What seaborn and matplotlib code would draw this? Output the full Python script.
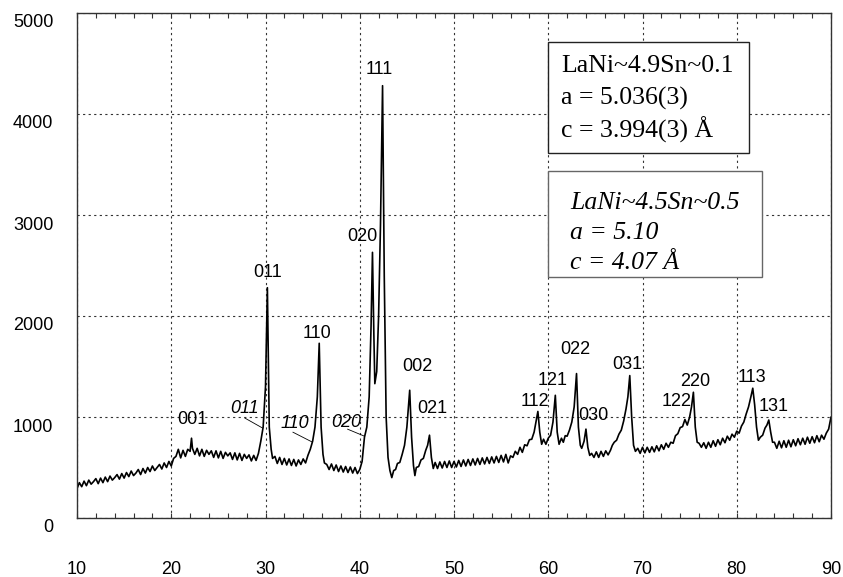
import numpy as np
import matplotlib
matplotlib.use("Agg")
import matplotlib.pyplot as plt
import matplotlib.transforms as mtransforms
from matplotlib.patches import Rectangle
import seaborn as sns
import pandas as pd

# XRD trace (2theta in degrees, counts)
two_theta = [
    10.00, 10.25, 10.50, 10.75, 11.00, 11.25, 11.50, 11.75, 12.00, 12.25,
    12.50, 12.75, 13.00, 13.25, 13.50, 13.75, 14.00, 14.25, 14.50, 14.75,
    15.00, 15.25, 15.50, 15.75, 16.00, 16.25, 16.50, 16.75, 17.00, 17.25,
    17.50, 17.75, 18.00, 18.25, 18.50, 18.75, 19.00, 19.25, 19.50, 19.75,
    20.00, 20.25, 20.50, 20.75, 21.00, 21.25, 21.50, 21.75, 22.00, 22.15,
    22.25, 22.50, 22.75, 23.00, 23.25, 23.50, 23.75, 24.00, 24.25, 24.50,
    24.75, 25.00, 25.25, 25.50, 25.75, 26.00, 26.25, 26.50, 26.75, 27.00,
    27.25, 27.50, 27.75, 28.00, 28.25, 28.50, 28.75, 29.00, 29.25, 29.50,
    29.75, 30.00, 30.20, 30.40, 30.60, 30.75, 31.00, 31.25, 31.50, 31.75,
    32.00, 32.25, 32.50, 32.75, 33.00, 33.25, 33.50, 33.75, 34.00, 34.25,
    34.50, 34.75, 35.00, 35.25, 35.50, 35.70, 35.90, 36.10, 36.25, 36.50,
    36.75, 37.00, 37.25, 37.50, 37.75, 38.00, 38.25, 38.50, 38.75, 39.00,
    39.25, 39.50, 39.75, 40.00, 40.25, 40.50, 40.75, 41.00, 41.20, 41.35,
    41.50, 41.60, 41.80, 42.00, 42.20, 42.42, 42.60, 42.80, 43.00, 43.20,
    43.40, 43.60, 43.80, 44.00, 44.25, 44.50, 44.75, 45.00, 45.30, 45.50,
    45.70, 45.85, 46.00, 46.25, 46.50, 46.75, 47.00, 47.20, 47.40, 47.60,
    47.80, 48.00, 48.25, 48.50, 48.75, 49.00, 49.25, 49.50, 49.75, 50.00,
    50.25, 50.50, 50.75, 51.00, 51.25, 51.50, 51.75, 52.00, 52.25, 52.50,
    52.75, 53.00, 53.25, 53.50, 53.75, 54.00, 54.25, 54.50, 54.75, 55.00,
    55.25, 55.50, 55.75, 56.00, 56.25, 56.50, 56.75, 57.00, 57.25, 57.50,
    57.75, 58.00, 58.25, 58.50, 58.70, 58.90, 59.10, 59.30, 59.50, 59.75,
    60.00, 60.25, 60.50, 60.75, 60.95, 61.15, 61.40, 61.60, 61.80, 62.00,
    62.25, 62.50, 62.75, 63.00, 63.20, 63.40, 63.55, 63.80, 64.00, 64.20,
    64.40, 64.60, 64.85, 65.10, 65.35, 65.60, 65.85, 66.10, 66.35, 66.60,
    66.80, 67.00, 67.25, 67.50, 67.75, 68.00, 68.25, 68.45, 68.65, 68.85,
    69.05, 69.25, 69.50, 69.75, 70.00, 70.25, 70.50, 70.75, 71.00, 71.25,
    71.50, 71.75, 72.00, 72.25, 72.50, 72.75, 73.00, 73.25, 73.50, 73.75,
    74.00, 74.25, 74.50, 74.75, 75.00, 75.20, 75.40, 75.60, 75.80, 76.00,
    76.25, 76.50, 76.75, 77.00, 77.25, 77.50, 77.75, 78.00, 78.25, 78.50,
    78.75, 79.00, 79.25, 79.50, 79.75, 80.00, 80.25, 80.50, 80.75, 81.00,
    81.25, 81.50, 81.70, 81.90, 82.10, 82.30, 82.50, 82.75, 83.00, 83.20,
    83.40, 83.60, 83.80, 84.00, 84.25, 84.50, 84.75, 85.00, 85.25, 85.50,
    85.75, 86.00, 86.25, 86.50, 86.75, 87.00, 87.25, 87.50, 87.75, 88.00,
    88.25, 88.50, 88.75, 89.00, 89.25, 89.50, 89.75, 90.00,
]
counts = [
    290, 350, 310, 365, 320, 375, 335, 360, 390, 340,
    395, 350, 405, 360, 415, 375, 400, 430, 385, 440,
    395, 450, 410, 465, 420, 445, 480, 430, 490, 445,
    500, 460, 515, 470, 500, 530, 485, 545, 500, 560,
    515, 590, 610, 680, 595, 670, 610, 680, 660, 790,
    690, 630, 690, 615, 680, 610, 670, 630, 665, 600,
    665, 595, 660, 590, 650, 615, 645, 580, 645, 575,
    640, 570, 630, 590, 625, 565, 620, 570, 640, 760,
    900, 1300, 2280, 900, 680, 590, 610, 540, 600, 530,
    590, 525, 585, 520, 580, 515, 575, 530, 585, 545,
    620, 680, 760, 900, 1200, 1730, 900, 630, 545, 530,
    480, 535, 470, 525, 460, 515, 455, 510, 450, 505,
    445, 500, 440, 480, 560, 800, 900, 1200, 1900, 2630,
    1800, 1330, 1450, 2000, 2900, 4280, 2400, 1000, 600, 470,
    400, 470, 480, 540, 550, 630, 720, 900, 1265, 800,
    520, 420, 500, 510, 575, 590, 670, 720, 820, 600,
    490, 550, 490, 555, 495, 560, 500, 565, 500, 560,
    505, 570, 510, 575, 515, 580, 520, 585, 525, 590,
    530, 595, 535, 600, 540, 605, 545, 610, 550, 620,
    555, 630, 545, 615, 600, 660, 630, 700, 650, 725,
    715, 775, 780, 850, 950, 1055, 850, 730, 780, 730,
    790, 820, 950, 1215, 850, 730, 790, 750, 815, 810,
    870, 950, 1100, 1430, 900, 720, 690, 760, 880, 700,
    620, 640, 600, 655, 600, 660, 610, 665, 625, 670,
    720, 750, 770, 830, 870, 960, 1080, 1200, 1410, 1000,
    720, 660, 690, 640, 700, 645, 700, 650, 705, 655,
    715, 665, 725, 680, 740, 700, 750, 740, 815, 835,
    895, 905, 975, 920, 1000, 1100, 1245, 900, 750, 740,
    700, 745, 690, 750, 700, 765, 710, 775, 725, 790,
    745, 810, 770, 830, 800, 860, 840, 910, 950, 1030,
    1100, 1200, 1285, 1120, 900, 770, 800, 820, 890, 920,
    970, 850, 750, 750, 690, 760, 695, 765, 700, 770,
    705, 775, 715, 785, 725, 790, 730, 800, 740, 805,
    745, 815, 755, 820, 780, 840, 880, 1000,
]

# reflection labels: text, x, y
peak_names = ["001", "011", "110", "020", "111", "002", "021", "112", "121",
              "022", "030", "031", "122", "220", "113", "131"]
peak_label_x = [22.2, 30.25, 35.45, 40.3, 42.1, 46.15, 47.65, 58.6, 60.5,
                62.9, 64.8, 68.4, 73.6, 75.6, 81.6, 83.9]
peak_label_y = [980, 2430, 1830, 2790, 4440, 1500, 1080, 1150, 1360,
                1670, 1010, 1520, 1150, 1350, 1390, 1100]

# italic shoulder labels with leader lines
shoulder_names = ["011", "110", "020"]
shoulder_label_x = [27.8, 33.1, 38.6]
shoulder_label_y = [1087, 940, 950]
shoulder_from = [(27.8, 990), (32.9, 850), (38.7, 880)]
shoulder_to = [(29.7, 890), (35.0, 750), (40.5, 810)]

box1_lines = ["LaNi~4.9Sn~0.1", "a = 5.036(3)", "c = 3.994(3) Å"]
box2_lines = ["LaNi~4.5Sn~0.5", "a = 5.10", "c = 4.07 Å"]

df = pd.DataFrame({"two_theta": two_theta, "counts": counts})

sns.set_theme(style="white")
plt.rcParams["font.family"] = ["Liberation Sans", "DejaVu Sans"]
plt.rcParams["text.color"] = "black"

W, H = 843, 577
fig = plt.figure(figsize=(W / 100, H / 100), dpi=100)
ax = fig.add_axes([77 / W, 1 - 518 / H, (831 - 77) / W, (518 - 13) / H])

sns.lineplot(data=df, x="two_theta", y="counts", estimator=None, sort=False,
             color="black", linewidth=1.2, ax=ax)

ax.set_xlim(10, 90)
ax.set_ylim(0, 5000)
ax.set_xticks(range(10, 91, 10))
ax.set_xticks(range(10, 91, 2), minor=True)
ax.set_yticks(range(0, 5001, 1000))
ax.set_xlabel("")
ax.set_ylabel("")

ax.grid(True, which="major", color="#333333", linestyle=(0, (2, 3)), linewidth=0.8)
ax.tick_params(axis="x", which="both", direction="in", top=True, bottom=True,
               length=3.5, width=0.8, color="#333333", pad=31, labelsize=13,
               labelcolor="black")
ax.tick_params(axis="y", which="both", length=0, pad=17, labelsize=13,
               labelcolor="black")
for sp in ax.spines.values():
    sp.set_color("#333333")
    sp.set_linewidth(1.0)

offset = mtransforms.ScaledTranslation(0, -0.08, fig.dpi_scale_trans)
for lab in ax.get_yticklabels():
    lab.set_transform(lab.get_transform() + offset)

for name, lx, ly in zip(peak_names, peak_label_x, peak_label_y):
    ax.text(lx, ly, name, fontsize=13, ha="center", va="center", color="black")

for name, lx, ly, p0, p1 in zip(shoulder_names, shoulder_label_x, shoulder_label_y,
                                 shoulder_from, shoulder_to):
    ax.text(lx, ly, name, fontsize=13, style="italic", ha="center", va="center",
            color="black")
    ax.plot([p0[0], p1[0]], [p0[1], p1[1]], color="black", linewidth=0.6)

# composition boxes
fig.patches.append(Rectangle((548 / W, 1 - 153 / H), (749 - 548) / W, (153 - 42) / H,
                             transform=fig.transFigure, facecolor="white",
                             edgecolor="#222222", linewidth=1.0, zorder=5))
fig.patches.append(Rectangle((548 / W, 1 - 277 / H), (762 - 548) / W, (277 - 171) / H,
                             transform=fig.transFigure, facecolor="white",
                             edgecolor="#666666", linewidth=1.0, zorder=5))
for i, line in enumerate(box1_lines):
    fig.text(561 / W, 1 - (66 + 32 * i) / H, line, fontsize=18.5, ha="left",
             va="center", family="Liberation Serif", color="black", zorder=6)
for i, line in enumerate(box2_lines):
    fig.text(570 / W, 1 - (203 + 30 * i) / H, line, fontsize=18.5, ha="left",
             va="center", family="Liberation Serif", style="italic", color="black",
             zorder=6)

fig.savefig("out.png", dpi=100)
